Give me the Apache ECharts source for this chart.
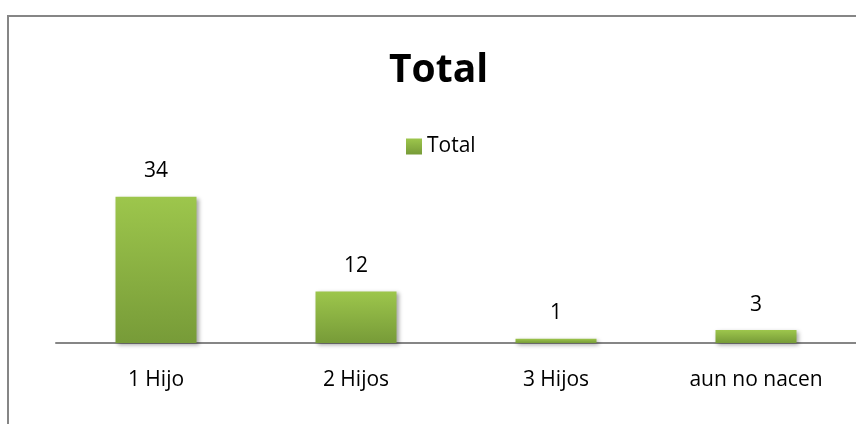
<!DOCTYPE html>
<html>
<head>
<meta charset="utf-8">
<script src="https://cdn.jsdelivr.net/npm/echarts@6/dist/echarts.min.js"></script>
<style>
  html, body { margin: 0; padding: 0; background: #fff; overflow: hidden; }
  #chart { width: 856px; height: 424px; }
</style>
</head>
<body>
<div id="chart"></div>
<script>
// chart data
const categories = ['1 Hijo', '2 Hijos', '3 Hijos', 'aun no nacen'];
const totals = [34, 12, 1, 3];
const seriesName = 'Total';

const chart = echarts.init(document.getElementById('chart'));

const font = '"Open Sans", Lato, sans-serif';

chart.setOption({
    animation: false,
    // outer frame of the chart area
    graphic: [{
        type: 'rect',
        shape: { x: 8, y: 16, width: 900, height: 500 },
        style: { fill: null, stroke: '#868686', lineWidth: 2 },
        silent: true
    }],
    // the plot runs past the right edge, so the title is placed by hand
    title: {
        text: 'Total',
        left: 384,
        top: 46,
        textStyle: { fontFamily: font, fontSize: 39, fontWeight: 'bold', color: '#000' }
    },
    legend: {
        data: [seriesName],
        icon: 'rect',
        top: 131,
        left: 401,
        itemWidth: 16,
        itemHeight: 16,
        itemGap: 6,
        textStyle: { fontFamily: font, fontSize: 21, color: '#000' }
    },
    grid: { left: 56, right: -4, top: 171, bottom: 81 },
    xAxis: {
        type: 'category',
        data: categories,
        axisLine: { lineStyle: { color: '#868686', width: 2 } },
        axisTick: { show: false },
        axisLabel: { fontFamily: font, fontSize: 21, color: '#000', margin: 27 }
    },
    yAxis: {
        type: 'value',
        min: 0,
        max: 40,
        show: false,
        splitLine: { show: false }
    },
    series: [{
        name: seriesName,
        type: 'bar',
        data: totals,
        barWidth: 81,
        itemStyle: {
            color: new echarts.graphic.LinearGradient(0, 0, 0, 1, [
                { offset: 0, color: '#9dc64c' },
                { offset: 1, color: '#779b38' }
            ]),
            shadowColor: 'rgba(0,0,0,0.35)',
            shadowBlur: 4,
            shadowOffsetX: 2,
            shadowOffsetY: 2
        },
        label: {
            show: true,
            position: 'top',
            distance: 15,
            fontFamily: font,
            fontSize: 21,
            color: '#000'
        }
    }]
});
</script>
</body>
</html>
